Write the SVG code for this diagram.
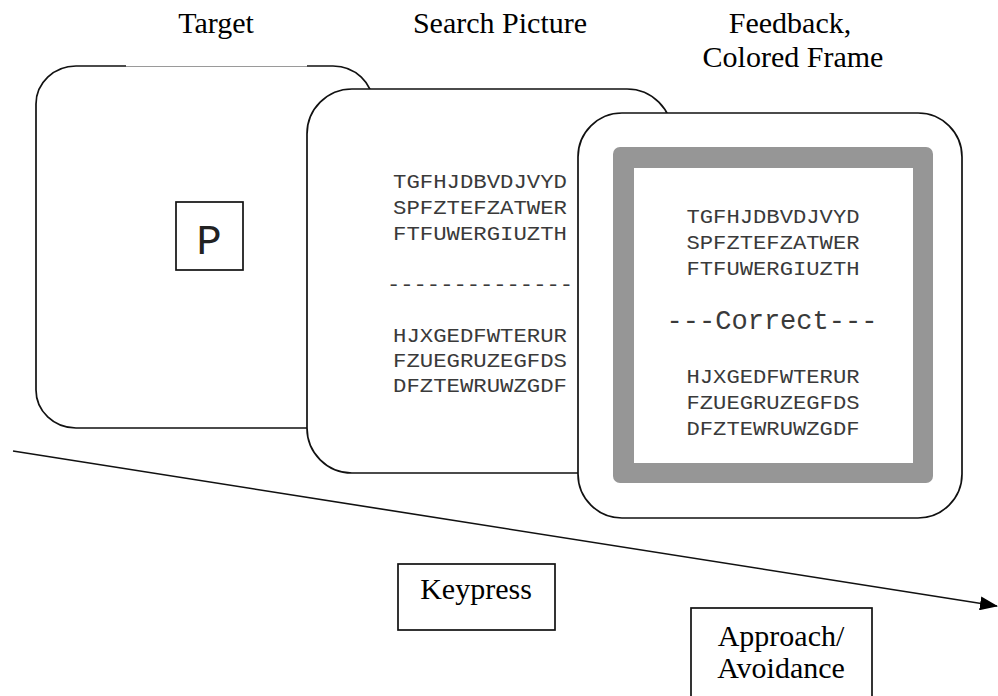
<svg xmlns="http://www.w3.org/2000/svg" width="998" height="696" viewBox="0 0 998 696">
  <style>
    .card { fill: #ffffff; stroke: #111111; stroke-width: 1.7; }
    .box { fill: #ffffff; stroke: #111111; stroke-width: 1.7; }
    .title { font-family: "Liberation Serif", "Times New Roman", serif; font-size: 30px; fill: #000000; text-anchor: middle; }
    .mono { font-family: "Liberation Mono", "Courier New", monospace; font-size: 21px; fill: #3a3a3a; text-anchor: middle; }
    .big { font-family: "Liberation Mono", "Courier New", monospace; font-size: 27px; fill: #3a3a3a; text-anchor: middle; }
    .conn { fill: none; stroke: #111111; stroke-width: 1.6; }
  </style>
  <defs>
    <marker id="arrowhead" viewBox="0 0 18 14" refX="17" refY="7" markerWidth="18" markerHeight="14" markerUnits="userSpaceOnUse" orient="auto">
      <path d="M0,0 L18,7 L0,14 Z" fill="#000000"/>
    </marker>
  </defs>
  <rect width="998" height="696" fill="#ffffff"/>

  <!-- column headings -->
  <g id="headings">
    <text class="title" x="216" y="33">Target</text>
    <text class="title" x="500" y="33">Search Picture</text>
    <text class="title" x="790" y="33">Feedback,</text>
    <text class="title" x="793" y="67">Colored Frame</text>
  </g>

  <!-- time axis -->
  <g id="connectors">
    <line class="conn" x1="13" y1="451" x2="997" y2="606" marker-end="url(#arrowhead)"/>
  </g>

  <!-- target screen -->
  <g id="target">
    <rect class="card" x="36" y="66" width="337" height="362" rx="40" ry="38"/>
    <!-- faint middle stretch of the top edge -->
    <line x1="126" y1="66" x2="307" y2="66" stroke="#ffffff" stroke-width="2.2"/>
    <line x1="126" y1="66.5" x2="307" y2="66.5" stroke="#9a9a9a" stroke-width="1"/>
    <rect class="box" x="176" y="202" width="67" height="68"/>
    <text x="209" y="254" font-family="Liberation Mono, Courier New, monospace" font-size="42" fill="#222222" text-anchor="middle">P</text>
  </g>

  <!-- search screen -->
  <g id="search">
    <rect class="card" x="307" y="89" width="365" height="384" rx="45" ry="45"/>
    <text class="mono" x="480" y="188" textLength="174" lengthAdjust="spacingAndGlyphs">TGFHJDBVDJVYD</text>
    <text class="mono" x="480" y="214" textLength="174" lengthAdjust="spacingAndGlyphs">SPFZTEFZATWER</text>
    <text class="mono" x="480" y="240" textLength="174" lengthAdjust="spacingAndGlyphs">FTFUWERGIUZTH</text>
    <text class="mono" x="480" y="291" textLength="186" lengthAdjust="spacingAndGlyphs">--------------</text>
    <text class="mono" x="480" y="342" textLength="174" lengthAdjust="spacingAndGlyphs">HJXGEDFWTERUR</text>
    <text class="mono" x="480" y="367" textLength="174" lengthAdjust="spacingAndGlyphs">FZUEGRUZEGFDS</text>
    <text class="mono" x="480" y="392" textLength="174" lengthAdjust="spacingAndGlyphs">DFZTEWRUWZGDF</text>
  </g>

  <!-- feedback screen with coloured frame -->
  <g id="feedback">
    <rect class="card" x="578" y="113" width="384" height="405" rx="44" ry="44"/>
    <rect x="613" y="147" width="320" height="336" rx="7" ry="7" fill="#969696"/>
    <rect x="634" y="168" width="279" height="295" fill="#ffffff"/>
    <text class="mono" x="773" y="223" textLength="173" lengthAdjust="spacingAndGlyphs">TGFHJDBVDJVYD</text>
    <text class="mono" x="773" y="249" textLength="173" lengthAdjust="spacingAndGlyphs">SPFZTEFZATWER</text>
    <text class="mono" x="773" y="275" textLength="173" lengthAdjust="spacingAndGlyphs">FTFUWERGIUZTH</text>
    <text class="big" x="772" y="329" textLength="211" lengthAdjust="spacingAndGlyphs">---Correct---</text>
    <text class="mono" x="773" y="383" textLength="173" lengthAdjust="spacingAndGlyphs">HJXGEDFWTERUR</text>
    <text class="mono" x="773" y="409" textLength="173" lengthAdjust="spacingAndGlyphs">FZUEGRUZEGFDS</text>
    <text class="mono" x="773" y="435" textLength="173" lengthAdjust="spacingAndGlyphs">DFZTEWRUWZGDF</text>
  </g>

  <!-- response box -->
  <g id="keypress">
    <rect class="box" x="398" y="564" width="157" height="66"/>
    <text class="title" x="476" y="599">Keypress</text>
  </g>

  <!-- outcome box -->
  <g id="approach">
    <rect class="box" x="691" y="608" width="181" height="100"/>
    <text class="title" x="781" y="646">Approach/</text>
    <text class="title" x="781" y="678">Avoidance</text>
  </g>
</svg>
